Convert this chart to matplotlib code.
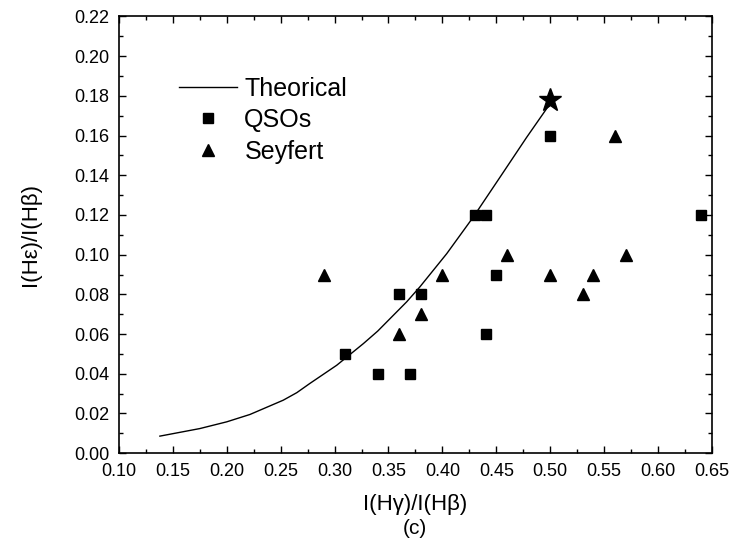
import matplotlib.pyplot as plt
from matplotlib.ticker import MultipleLocator

plt.rcParams['font.family'] = ['Liberation Sans', 'DejaVu Sans']

# theoretical curve
theory_x = [0.138, 0.175, 0.200, 0.2215, 0.2524, 0.265, 0.277, 0.302, 0.3267, 0.34, 0.3668,
            0.379, 0.404, 0.4287, 0.4534, 0.478, 0.4998]
theory_y = [0.0086, 0.0124, 0.0158, 0.0195, 0.0267, 0.0305, 0.0351, 0.0443, 0.0552, 0.0615, 0.0762,
            0.0837, 0.1005, 0.119, 0.139, 0.159, 0.176]

qso_x = [0.31, 0.34, 0.36, 0.37, 0.38, 0.43, 0.44, 0.44, 0.45, 0.50, 0.64]
qso_y = [0.05, 0.04, 0.08, 0.04, 0.08, 0.12, 0.12, 0.06, 0.09, 0.16, 0.12]

sey_x = [0.29, 0.36, 0.38, 0.40, 0.46, 0.50, 0.53, 0.54, 0.56, 0.57]
sey_y = [0.09, 0.06, 0.07, 0.09, 0.10, 0.09, 0.08, 0.09, 0.16, 0.10]

star_x = [0.50]
star_y = [0.178]

fig = plt.figure(figsize=(7.34, 5.48), dpi=100)
ax = fig.add_axes([0.162, 0.173, 0.808, 0.797])

ax.plot(theory_x, theory_y, color='black', lw=1.0, label='Theorical')
ax.plot(qso_x, qso_y, ls='none', marker='s', ms=7, color='black', label='QSOs')
ax.plot(sey_x, sey_y, ls='none', marker='^', ms=8.5, color='black', label='Seyfert')
ax.plot(star_x, star_y, ls='none', marker='*', ms=17, color='black')

ax.set_xlim(0.10, 0.65)
ax.set_ylim(0.0, 0.22)
ax.xaxis.set_major_locator(MultipleLocator(0.05))
ax.xaxis.set_minor_locator(MultipleLocator(0.025))
ax.yaxis.set_major_locator(MultipleLocator(0.02))
ax.yaxis.set_minor_locator(MultipleLocator(0.01))
ax.xaxis.set_major_formatter(plt.FormatStrFormatter('%.2f'))
ax.yaxis.set_major_formatter(plt.FormatStrFormatter('%.2f'))
ax.tick_params(which='both', direction='in', top=True, right=True, labelsize=13, width=1.0)
ax.tick_params(which='major', length=5)
ax.tick_params(which='minor', length=3)
ax.tick_params(axis='x', pad=7)
ax.tick_params(axis='y', pad=7)
for s in ax.spines.values():
    s.set_linewidth(1.2)

ax.set_xlabel('I(Hγ)/I(Hβ)', fontsize=16, labelpad=10)
ax.set_ylabel('I(Hε)/I(Hβ)', fontsize=16, labelpad=24)
fig.text(0.565, 0.025, '(c)', fontsize=15, ha='center')

ax.legend(frameon=False, loc='upper left', bbox_to_anchor=(0.085, 0.885), fontsize=18,
          handlelength=2.3, handletextpad=0.3, labelspacing=0.3, borderaxespad=0)

fig.savefig('out.png', dpi=100)
